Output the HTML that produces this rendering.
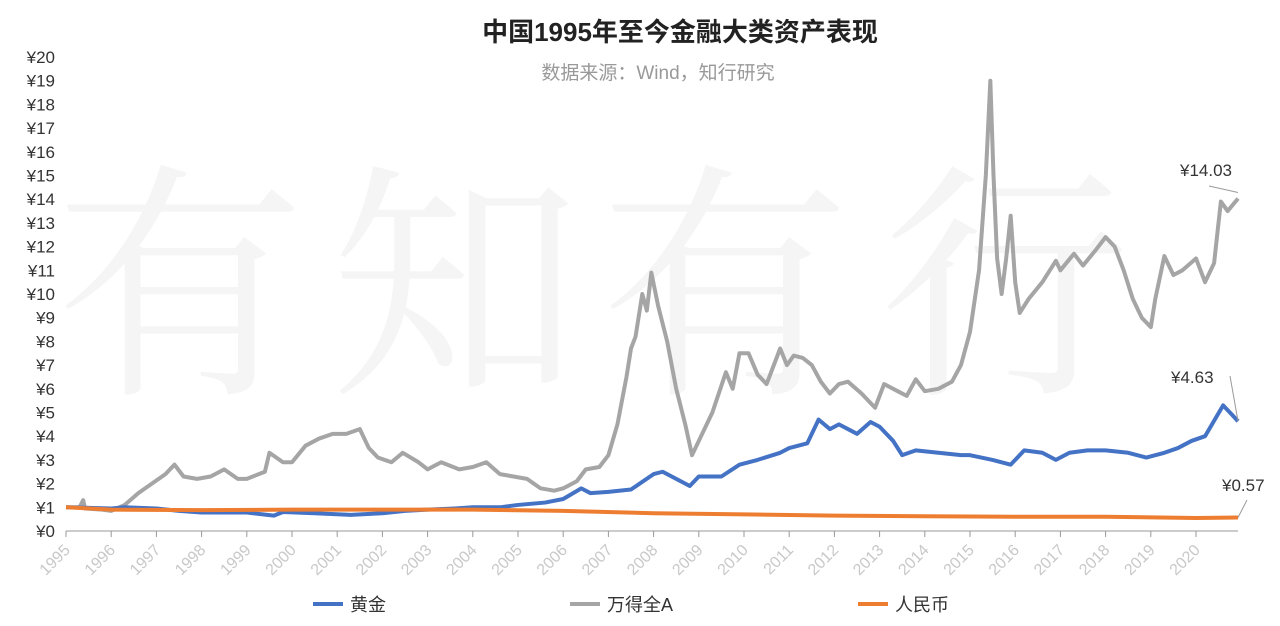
<!DOCTYPE html>
<html><head><meta charset="utf-8"><style>
body{margin:0;background:#fff;}
svg{display:block;font-family:"Liberation Sans","Noto Sans CJK SC",sans-serif;}
</style></head><body>
<svg id="c" width="1280" height="626">
<g font-family="'Noto Serif CJK SC',serif" font-size="250" fill="#f5f5f5">
<text x="55" y="375">有</text><text x="330" y="375">知</text><text x="600" y="375">有</text><text x="880" y="375">行</text>
</g>
<text x="680" y="41" text-anchor="middle" font-size="26" font-weight="bold" fill="#222">中国1995年至今金融大类资产表现</text>
<text x="658" y="79" text-anchor="middle" font-size="19" fill="#999">数据来源：Wind，知行研究</text>
<g id="yax"></g>
<g id="xax"></g>
<g id="series"></g>
<g id="ann"></g>
<g>
<g><line x1="313" y1="604" x2="343" y2="604" stroke="#4472c4" stroke-width="4"/><text x="350" y="611" font-size="18" fill="#333">黄金</text></g>
<g><line x1="570" y1="604" x2="600" y2="604" stroke="#a5a5a5" stroke-width="4"/><text x="607" y="611" font-size="18" fill="#333">万得全A</text></g>
<g><line x1="858" y1="604" x2="888" y2="604" stroke="#ed7d31" stroke-width="4"/><text x="895" y="611" font-size="18" fill="#333">人民币</text></g>
</g>
</svg>
<script>
const yTicks=[0,1,2,3,4,5,6,7,8,9,10,11,12,13,14,15,16,17,18,19,20];
const years=[1995,1996,1997,1998,1999,2000,2001,2002,2003,2004,2005,2006,2007,2008,2009,2010,2011,2012,2013,2014,2015,2016,2017,2018,2019,2020];
const aT=[1995,1995.3,1995.38,1995.42,1995.8,1996,1996.3,1996.6,1996.9,1997.2,1997.4,1997.6,1997.9,1998.2,1998.5,1998.8,1999,1999.4,1999.5,1999.8,2000,2000.3,2000.6,2000.9,2001.2,2001.5,2001.7,2001.9,2002.2,2002.45,2002.8,2003,2003.3,2003.7,2004,2004.3,2004.6,2004.9,2005.2,2005.5,2005.8,2006,2006.3,2006.5,2006.8,2007,2007.2,2007.4,2007.5,2007.6,2007.75,2007.85,2007.95,2008.1,2008.3,2008.5,2008.7,2008.85,2009,2009.3,2009.6,2009.75,2009.9,2010.1,2010.3,2010.5,2010.8,2010.95,2011.1,2011.3,2011.5,2011.7,2011.9,2012.1,2012.3,2012.6,2012.9,2013.1,2013.4,2013.6,2013.8,2014,2014.3,2014.6,2014.8,2015,2015.2,2015.35,2015.45,2015.52,2015.6,2015.7,2015.8,2015.9,2016,2016.1,2016.3,2016.6,2016.9,2017,2017.3,2017.5,2017.8,2018,2018.2,2018.4,2018.6,2018.8,2019,2019.1,2019.3,2019.5,2019.7,2020,2020.2,2020.4,2020.55,2020.7,2020.93];
const aV=[1.0,1.0,1.3,0.95,0.9,0.85,1.1,1.6,2.0,2.4,2.8,2.3,2.2,2.3,2.6,2.2,2.2,2.5,3.3,2.9,2.9,3.6,3.9,4.1,4.1,4.3,3.5,3.1,2.9,3.3,2.9,2.6,2.9,2.6,2.7,2.9,2.4,2.3,2.2,1.8,1.7,1.8,2.1,2.6,2.7,3.2,4.5,6.5,7.7,8.2,10.0,9.3,10.9,9.5,8.0,6.0,4.5,3.2,3.8,5.0,6.7,6.0,7.5,7.5,6.6,6.2,7.7,7.0,7.4,7.3,7.0,6.3,5.8,6.2,6.3,5.8,5.2,6.2,5.9,5.7,6.4,5.9,6.0,6.3,7.0,8.4,11.0,15.0,19.0,15.0,11.5,10.0,11.5,13.3,10.5,9.2,9.8,10.5,11.4,11.0,11.7,11.2,11.9,12.4,12.0,11.0,9.8,9.0,8.6,9.8,11.6,10.8,11.0,11.5,10.5,11.3,13.9,13.5,14.03];
const gT=[1995,1996,1996.3,1997,1997.5,1998,1998.5,1999,1999.6,1999.8,2000.5,2001.3,2002,2002.5,2003,2003.6,2004,2004.6,2005,2005.6,2006,2006.4,2006.6,2007,2007.5,2008,2008.2,2008.6,2008.8,2009,2009.5,2009.9,2010.3,2010.8,2011,2011.4,2011.65,2011.9,2012.1,2012.5,2012.8,2013,2013.3,2013.5,2013.8,2014.3,2014.8,2015,2015.5,2015.9,2016.2,2016.6,2016.9,2017.2,2017.6,2018,2018.5,2018.9,2019.3,2019.6,2019.9,2020.2,2020.6,2020.8,2020.93];
const gV=[1.0,0.95,1.0,0.95,0.85,0.78,0.78,0.78,0.65,0.8,0.75,0.68,0.75,0.85,0.9,0.95,1.0,1.0,1.1,1.2,1.35,1.8,1.6,1.65,1.75,2.4,2.5,2.1,1.9,2.3,2.3,2.8,3.0,3.3,3.5,3.7,4.7,4.3,4.5,4.1,4.6,4.4,3.8,3.2,3.4,3.3,3.2,3.2,3.0,2.8,3.4,3.3,3.0,3.3,3.4,3.4,3.3,3.1,3.3,3.5,3.8,4.0,5.3,4.9,4.63];
const rT=[1995,1996,1998,2000,2002,2004,2006,2008,2010,2012,2014,2016,2018,2020,2020.93];
const rV=[1.0,0.9,0.88,0.9,0.9,0.9,0.85,0.75,0.7,0.65,0.62,0.6,0.6,0.55,0.57];
const NS='http://www.w3.org/2000/svg';
const X=t=>66+(t-1995)*45.2, Y=v=>531-v*23.7;
function mk(tag,attrs,parent,txt){const e=document.createElementNS(NS,tag);for(const k in attrs)e.setAttribute(k,attrs[k]);if(txt!=null)e.textContent=txt;parent.appendChild(e);return e;}
const yax=document.getElementById('yax'),xax=document.getElementById('xax'),ser=document.getElementById('series'),ann=document.getElementById('ann');
yTicks.forEach(v=>{const t=mk('text',{x:55,y:Y(v)+6,'text-anchor':'end','font-size':17,fill:'#333'},yax,'¥'+v);

});
mk('line',{x1:66,y1:531,x2:1238,y2:531,stroke:'#999','stroke-width':1},xax);
years.forEach(yr=>{const x=X(yr);mk('line',{x1:x,y1:531,x2:x,y2:537,stroke:'#999'},xax);
const t=mk('text',{x:x+5,y:551,'text-anchor':'end','font-size':16,fill:'#c8c8c8',transform:`rotate(-45 ${x+5} 551)`},xax,yr);

});
function line(T,V,c,w,name){const p=mk('polyline',{points:T.map((t,i)=>X(t)+','+Y(V[i])).join(' '),fill:'none',stroke:c,'stroke-width':w,'stroke-linejoin':'round'},ser);

}
line(aT,aV,'#a5a5a5',4,'line-ashares');
line(gT,gV,'#4472c4',4,'line-gold');
line(rT,rV,'#ed7d31',4,'line-rmb');
function lab(txt,x,y,lx1,ly1,lx2,ly2,name){const t=mk('text',{x:x,y:y,'font-size':17,fill:'#333'},ann,txt);


mk('polyline',{points:`${lx1},${ly1} ${lx2},${ly2}`,fill:'none',stroke:'#999'},ann);}
const ea=aT.length-1,eg=gT.length-1,er=rT.length-1;
lab('¥'+aV[ea].toFixed(2),1180,176,1209,186,X(aT[ea]),Y(aV[ea])-6,'label-ashares-end');
lab('¥'+gV[eg].toFixed(2),1171,383,1230,376,X(gT[eg]),Y(gV[eg]),'label-gold-end');
lab('¥'+rV[er].toFixed(2),1222,491,1247,500,X(rT[er]),Y(rV[er]),'label-rmb-end');
</script>
</body></html>
